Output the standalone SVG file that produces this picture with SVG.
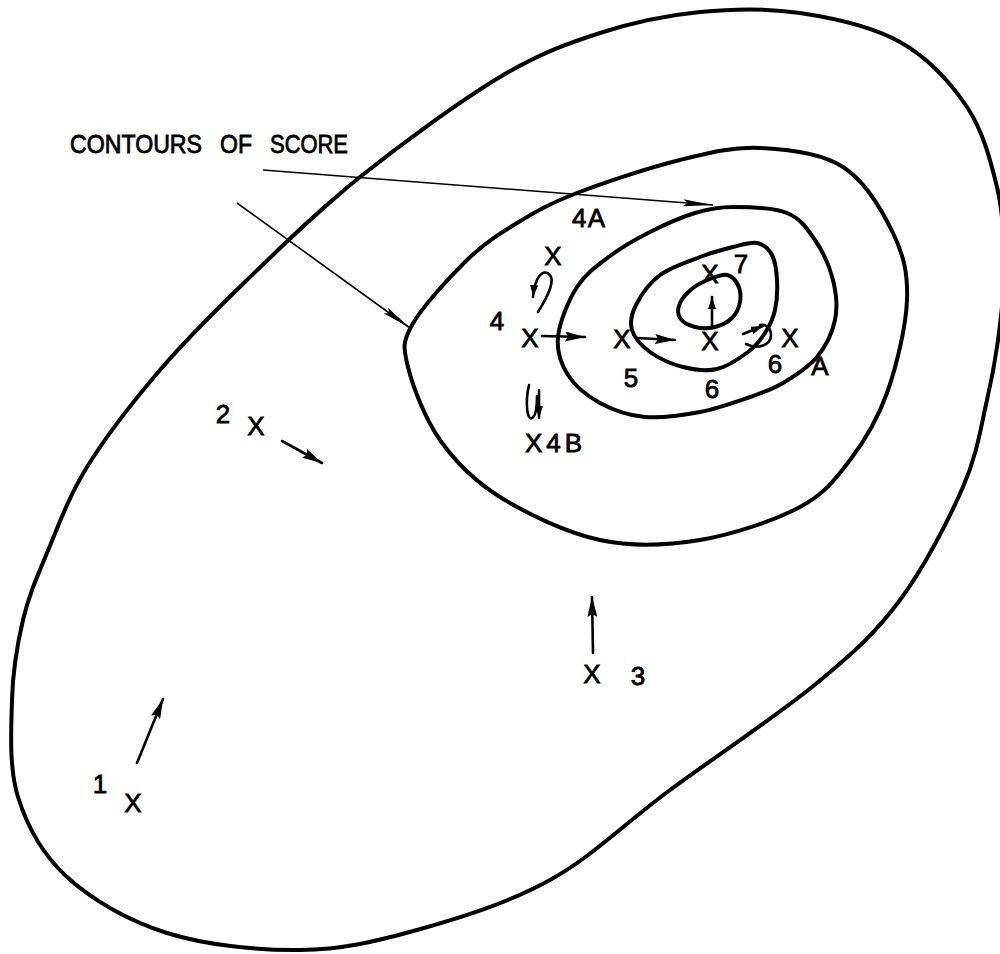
<svg xmlns="http://www.w3.org/2000/svg" width="1000" height="954" viewBox="0 0 1000 954">
<style>
.c{fill:none;stroke:#000;stroke-width:4;stroke-linejoin:round;stroke-linecap:round}
.t{font-family:"Liberation Sans",Arial,sans-serif;font-size:26px;fill:#000;stroke:#000;stroke-width:0.8}
.x{text-anchor:middle}
.lead{fill:none;stroke:#000;stroke-width:1.6}
.mv{fill:none;stroke:#000;stroke-width:2.6;stroke-linecap:round}
</style>
<defs>
<marker id="hl" markerUnits="userSpaceOnUse" viewBox="0 0 30 8" markerWidth="30" markerHeight="8" refX="30" refY="4" orient="auto"><path d="M0,0.5 L30,4 L0,7.5 L5,4 Z" fill="#000"/></marker>
<marker id="hm" markerUnits="userSpaceOnUse" viewBox="0 0 20 10" markerWidth="20" markerHeight="10" refX="20" refY="5" orient="auto"><path d="M0,0 L20,5 L0,10 L3,5 Z" fill="#000"/></marker>
<marker id="hs" markerUnits="userSpaceOnUse" viewBox="0 0 12 8" markerWidth="12" markerHeight="8" refX="12" refY="4" orient="auto"><path d="M0,0 L12,4 L0,8 Z" fill="#000"/></marker>
</defs>
<rect width="1000" height="954" fill="#fff"/>
<g id="contours">
<path id="outer" class="c" d="M700,12 C733.3,8.7 766.7,8 800,13 C833.3,18 872.2,26.3 900,42 C927.8,57.7 950.8,82.8 967,107 C983.2,131.2 990.8,161.5 997,187 C1003.2,212.5 1003.5,237 1004,260 C1004.5,283 1002.8,301.7 1000,325 C997.2,348.3 993.2,373 987,400 C980.8,427 977.5,453.7 963,487 C948.5,520.3 924.3,567.3 900,600 C875.7,632.7 855.3,651.3 817,683 C778.7,714.7 714.5,757.2 670,790 C625.5,822.8 592.2,856.7 550,880 C507.8,903.3 458.7,918.3 417,930 C375.3,941.7 341.7,949.5 300,950 C258.3,950.5 205.8,945.2 167,933 C128.2,920.8 91.8,899.7 67,877 C42.2,854.3 27.2,826.5 18,797 C8.8,767.5 11.2,729.5 12,700 C12.8,670.5 17.2,644.5 23,620 C28.8,595.5 36.3,578.5 47,553 C57.7,527.5 68.2,497.5 87,467 C105.8,436.5 133.3,401.2 160,370 C186.7,338.8 213.7,312.2 247,280 C280.3,247.8 317.8,210.8 360,177 C402.2,143.2 460,101 500,77 C540,53 566.7,43.8 600,33 C633.3,22.2 666.7,15.3 700,12 Z"/>
<path id="contour-4" class="c" d="M760,148 C787.2,149.2 820.8,152.8 843,167 C865.2,181.2 882.3,210.8 893,233 C903.7,255.2 908,273.3 907,300 C906,326.7 896.5,366.3 887,393 C877.5,419.7 864.5,441 850,460 C835.5,479 825,493.7 800,507 C775,520.3 733.3,534.5 700,540 C666.7,545.5 633.3,547.2 600,540 C566.7,532.8 526.7,513.7 500,497 C473.3,480.3 455.3,461.7 440,440 C424.7,418.3 412.7,386.2 408,367 C403.3,347.8 402.2,342.8 412,325 C421.8,307.2 449.5,277 467,260 C484.5,243 498.7,234.2 517,223 C535.3,211.8 549.8,203.5 577,193 C604.2,182.5 649.5,167.5 680,160 C710.5,152.5 732.8,146.8 760,148 Z"/>
<path id="contour-5" class="c" d="M733,207 C748.3,207 773.3,207.5 787,213 C800.7,218.5 807.3,228.8 815,240 C822.7,251.2 829.7,266.7 833,280 C836.3,293.3 837.7,307.2 835,320 C832.3,332.8 825.7,346.5 817,357 C808.3,367.5 794.2,376.3 783,383 C771.8,389.7 763.8,392.2 750,397 C736.2,401.8 717.5,408.7 700,412 C682.5,415.3 661.7,418.5 645,417 C628.3,415.5 612.8,410 600,403 C587.2,396 575,386 568,375 C561,364 556.5,351.7 558,337 C559.5,322.3 568.3,300.5 577,287 C585.7,273.5 597.8,265.2 610,256 C622.2,246.8 635.8,239.2 650,232 C664.2,224.8 681.2,217.2 695,213 C708.8,208.8 717.7,207 733,207 Z"/>
<path id="contour-6" class="c" d="M733,247 C742.5,244.7 750.5,241.7 757,243 C763.5,244.3 768.7,248.8 772,255 C775.3,261.2 776.5,270.8 777,280 C777.5,289.2 777,301.2 775,310 C773,318.8 769.5,326 765,333 C760.5,340 756,346 748,352 C740,358 727.8,366.5 717,369 C706.2,371.5 694.2,369.8 683,367 C671.8,364.2 658.5,358.2 650,352 C641.5,345.8 634.3,337.8 632,330 C629.7,322.2 631.3,314.2 636,305 C640.7,295.8 649.3,283 660,275 C670.7,267 687.8,261.7 700,257 C712.2,252.3 723.5,249.3 733,247 Z"/>
<path id="contour-7" class="c" d="M727,275 C731.7,276 735.8,280.5 738,285 C740.2,289.5 741,296.5 740,302 C739,307.5 736.2,313.8 732,318 C727.8,322.2 721.2,325.5 715,327 C708.8,328.5 700.8,328.5 695,327 C689.2,325.5 682.5,322 680,318 C677.5,314 677.8,308 680,303 C682.2,298 688,292 693,288 C698,284 704.3,281.2 710,279 C715.7,276.8 722.3,274 727,275 Z"/>
</g>
<g id="label">
<text class="t" x="70" y="153" font-size="28" textLength="132" lengthAdjust="spacingAndGlyphs">CONTOURS</text>
<text class="t" x="220" y="153" font-size="28" textLength="32" lengthAdjust="spacingAndGlyphs">OF</text>
<text class="t" x="270" y="153" font-size="28" textLength="78" lengthAdjust="spacingAndGlyphs">SCORE</text>
</g>
<g id="points">
<g id="p1"><text class="t x" x="100" y="793">1</text><text class="t x" x="133" y="812">X</text></g>
<g id="p2"><text class="t x" x="223" y="423">2</text><text class="t x" x="256" y="435">X</text></g>
<g id="p3"><text class="t x" x="592" y="683">X</text><text class="t x" x="638" y="685">3</text></g>
<g id="p4"><text class="t x" x="497" y="330">4</text><text class="t x" x="530" y="347">X</text></g>
<g id="p4a"><text class="t x" x="553" y="265">X</text><text class="t" x="572" y="227" textLength="33">4A</text></g>
<g id="p4b"><text class="t" x="525" y="452" textLength="57">X4B</text></g>
<g id="p5"><text class="t x" x="622" y="348">X</text><text class="t x" x="631" y="387">5</text></g>
<g id="p6"><text class="t x" x="710" y="350">X</text><text class="t x" x="712" y="398">6</text></g>
<g id="p7"><text class="t x" x="710" y="283">X</text><text class="t x" x="741" y="273">7</text></g>
<g id="p6a"><text class="t x" x="790" y="347">X</text><text class="t x" x="775" y="373">6</text><text class="t x" x="820" y="375">A</text></g>
</g>
<g id="connectors">
<line class="lead" x1="263" y1="170" x2="713" y2="205" marker-end="url(#hl)"/>
<line class="lead" x1="237" y1="203" x2="410" y2="328" marker-end="url(#hl)"/>
<line class="mv" x1="137" y1="763" x2="163" y2="699" marker-end="url(#hm)"/>
<line class="mv" x1="282" y1="441" x2="322" y2="463" marker-end="url(#hm)"/>
<line class="mv" x1="593" y1="653" x2="592" y2="597" marker-end="url(#hm)"/>
<line class="mv" x1="542" y1="336" x2="585" y2="337" marker-end="url(#hm)"/>
<line class="mv" x1="637" y1="338" x2="675" y2="340" marker-end="url(#hm)"/>
<line class="mv" x1="712" y1="328" x2="712" y2="297" marker-end="url(#hs)"/>
<path class="mv" d="M538,312 C548,296 556,280 549,274 C543,269 535,276 533,297" marker-end="url(#hs)"/>
<path class="mv" d="M529,385 C525,402 527,421 532,418 C536,416 537,405 537,396"/>
<line class="mv" x1="539" y1="390" x2="539" y2="418" marker-end="url(#hs)"/>
<path class="mv" d="M746,344 C758,350 771,345 771,335 C771,327 765,324 760,325"/>
<line class="mv" x1="743" y1="334" x2="763" y2="326" marker-end="url(#hs)"/>
</g>
</svg>
